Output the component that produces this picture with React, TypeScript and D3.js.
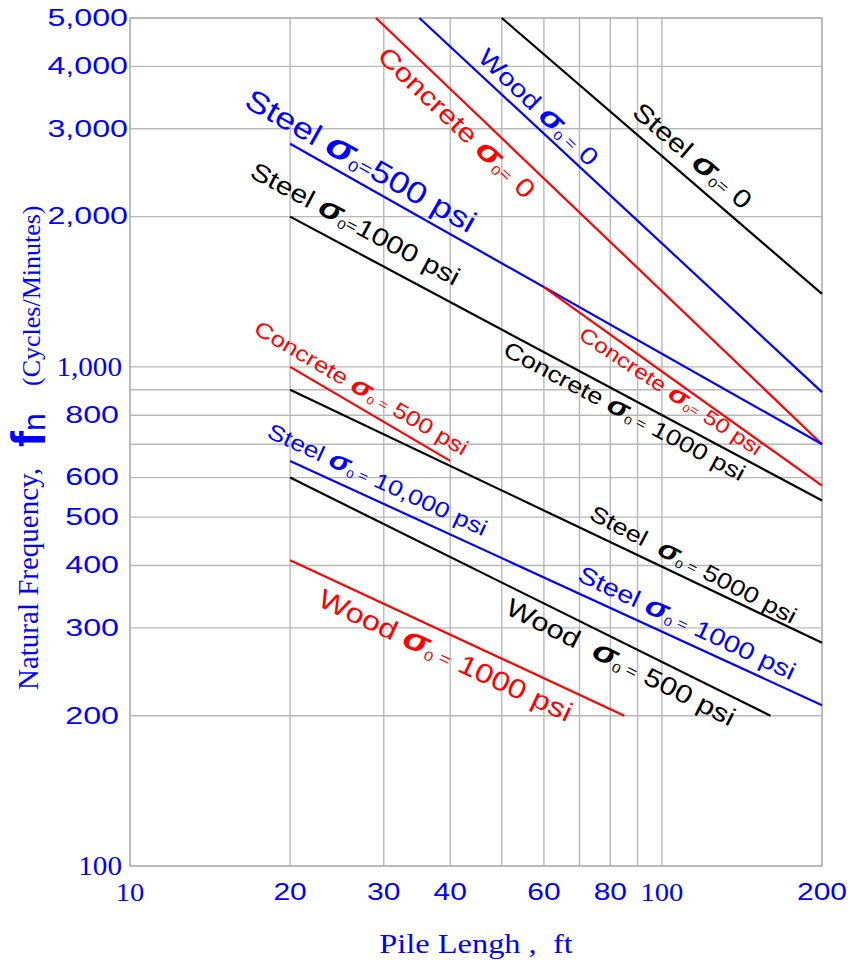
import React from 'react';
import * as d3 from 'd3';

const W = 851;
const H = 963;

// axis domain
const xDomain = [10, 200];
const yDomain = [100, 5000];

// grid lines
const xGridValues = [20, 30, 40, 50, 60, 70, 80, 90, 100];
const yGridValues = [200, 300, 400, 500, 600, 700, 800, 900, 1000, 2000, 3000, 4000];

// tick labels
const xTickValues = [10, 20, 30, 40, 60, 80, 100, 200];
const xTickText = ['10', '20', '30', '40', '60', '80', '100', '200'];
const yTickValues = [100, 200, 300, 400, 500, 600, 800, 1000, 2000, 3000, 4000, 5000];
const yTickText = ['100', '200', '300', '400', '500', '600', '800', '1,000', '2,000', '3,000', '4,000', '5,000'];
const serifTickValues = [10, 100, 1000];

// series: [pile length ft, natural frequency cpm]
const steel0 = [[50, 5000], [200, 1400]];
const wood0 = [[35, 5000], [200, 890]];
const concrete0 = [[29, 5000], [200, 700]];
const steel500 = [[20, 2800], [200, 700]];
const steel1000 = [[20, 2000], [200, 540]];
const concrete50 = [[60, 1445], [200, 578]];
const concrete500 = [[20, 1000], [40, 648]];
const steel5000 = [[20, 900], [200, 280]];
const steel10000 = [[20, 648], [200, 210]];
const wood500 = [[20, 600], [160, 200]];
const wood1000 = [[20, 410], [85, 200]];

const BLACK = '#000000';
const BLUE = '#0000ff';
const RED = '#ff0000';

const seriesList = [
  { d: steel0, c: BLACK },
  { d: wood0, c: BLUE },
  { d: concrete0, c: RED },
  { d: steel500, c: BLUE },
  { d: steel1000, c: BLACK },
  { d: concrete50, c: RED },
  { d: concrete500, c: RED },
  { d: steel5000, c: BLACK },
  { d: steel10000, c: BLUE },
  { d: wood500, c: BLACK },
  { d: wood1000, c: RED },
];

// labels: series, start length (ft), vertical offset px (+ above line), font size, angle override
const labels = [
  { s: steel0, c: BLACK, pre: 'Steel ', eq: '=', suf: ' 0', at: 87.4, dy: 15, fs: 25.5 },
  { s: wood0, c: BLUE, pre: 'Wood ', eq: ' =', suf: ' 0', at: 44.8, dy: 12, fs: 24.5, ang: 44 },
  { s: concrete0, c: RED, pre: 'Concrete ', eq: '=', suf: ' 0', at: 29.0, dy: -40, fs: 26 },
  { s: steel500, c: BLUE, pre: 'Steel ', eq: '=', suf: '500 psi', at: 16.3, dy: 11, fs: 30 },
  { s: steel1000, c: BLACK, pre: 'Steel ', eq: '=', suf: '1000 psi', at: 16.7, dy: 18, fs: 25 },
  { s: concrete500, c: RED, pre: 'Concrete ', eq: ' =', suf: ' 500 psi', at: 17.0, dy: 12, fs: 21.5 },
  { s: steel10000, c: BLUE, pre: 'Steel ', eq: ' =', suf: ' 10,000 psi', at: 18.0, dy: 13, fs: 22 },
  { s: wood1000, c: RED, pre: 'Wood ', eq: ' =', suf: ' 1000 psi', at: 22.4, dy: -33, fs: 27, ang: 25 },
  { s: steel1000, c: BLACK, pre: 'Concrete ', eq: ' =', suf: ' 1000 psi', at: 50.0, dy: -25, fs: 22.5 },
  { s: concrete50, c: RED, pre: 'Concrete ', eq: '=', suf: ' 50 psi', at: 69.4, dy: -27, fs: 20.5, ang: 33.5 },
  { s: steel5000, c: BLACK, pre: 'Steel  ', eq: ' =', suf: ' 5000 psi', at: 72.6, dy: 13, fs: 22.5, ang: 27.5 },
  { s: steel10000, c: BLUE, pre: 'Steel ', eq: ' =', suf: ' 1000 psi', at: 69.0, dy: 12, fs: 24, ang: 25 },
  { s: wood500, c: BLACK, pre: 'Wood  ', eq: ' =', suf: ' 500 psi', at: 50.5, dy: -29.5, fs: 25.5, ang: 26.7 },
];

const x = d3.scaleLog().domain(xDomain).range([130, 822]);
const y = d3.scaleLog().domain(yDomain).range([866, 18]);

function lineAt(s: number[][], L: number) {
  const [[x0, y0], [x1, y1]] = s;
  const t = Math.log(L / x0) / Math.log(x1 / x0);
  return Math.exp(Math.log(y0) + t * (Math.log(y1) - Math.log(y0)));
}

const SANS = '"Liberation Sans", Arial, Helvetica, sans-serif';
const SERIF = '"Liberation Serif", "Times New Roman", serif';
const GRID = '#b8b8b8';
const STRETCH = 1.2;

export default function App() {
  const lineGen = d3
    .line<number[]>()
    .x((d) => x(d[0]))
    .y((d) => y(d[1]));

  return (
    <svg
      width={W}
      height={H}
      viewBox={`0 0 ${W} ${H}`}
      style={{ position: 'absolute', left: 0, top: 0, background: '#fff' }}
    >
      <rect x={0} y={0} width={W} height={H} fill="#fff" />
      {/* grid */}
      {xGridValues.map((v) => (
        <line key={'gx' + v} x1={x(v)} x2={x(v)} y1={y(5000)} y2={y(100)} stroke={GRID} strokeWidth={1.4} />
      ))}
      {yGridValues.map((v) => (
        <line key={'gy' + v} x1={x(10)} x2={x(200)} y1={y(v)} y2={y(v)} stroke={GRID} strokeWidth={1.4} />
      ))}
      <rect
        x={x(10)}
        y={y(5000)}
        width={x(200) - x(10)}
        height={y(100) - y(5000)}
        fill="none"
        stroke="#aaaaaa"
        strokeWidth={1.6}
      />

      {/* series */}
      {seriesList.map((s, i) => (
        <path key={'s' + i} d={lineGen(s.d) || ''} fill="none" stroke={s.c} strokeWidth={2.2} />
      ))}

      {/* labels */}
      {labels.map((l, i) => {
        const [[a0, b0], [a1, b1]] = l.s;
        const slope = (y(b1) - y(b0)) / (x(a1) - x(a0));
        const ang = l.ang !== undefined ? l.ang : (Math.atan(slope) * 180) / Math.PI;
        const px = x(l.at);
        const py = y(lineAt(l.s, l.at)) - l.dy;
        const fs = l.fs;
        return (
          <text
            key={'l' + i}
            transform={`translate(${px},${py}) rotate(${ang}) scale(${STRETCH},1)`}
            fill={l.c}
            fontFamily={SANS}
            fontSize={fs}
            style={{ whiteSpace: 'pre' }}
          >
            <tspan>{l.pre}</tspan>
            <tspan fontWeight="bold" fontStyle="italic" fontSize={fs * 1.2}>σ</tspan>
            <tspan fontSize={fs * 0.5} dy={fs * 0.12}>0</tspan>
            <tspan fontSize={fs * 0.62} dy={-fs * 0.12}>{l.eq}</tspan>
            <tspan>{l.suf}</tspan>
          </text>
        );
      })}

      {/* y tick labels */}
      {yTickValues.map((v, i) => {
        const serif = serifTickValues.includes(v);
        const right = v >= 2000 ? 128 : v === 1000 ? 122 : serif ? 122 : 119;
        return (
          <text
            key={'yt' + v}
            transform={`translate(${right},${y(v)}) scale(${serif ? 1.08 : 1.4},1)`}
            textAnchor="end"
            dominantBaseline="central"
            fill={BLUE}
            fontFamily={serif ? SERIF : SANS}
            fontSize={serif ? 27 : 23}
          >
            {yTickText[i]}
          </text>
        );
      })}

      {/* x tick labels */}
      {xTickValues.map((v, i) => {
        const serif = serifTickValues.includes(v);
        return (
          <text
            key={'xt' + v}
            transform={`translate(${x(v)},${892}) scale(${serif ? 1.1 : 1.25},1)`}
            textAnchor="middle"
            dominantBaseline="central"
            fill={BLUE}
            fontFamily={serif ? SERIF : SANS}
            fontSize={serif ? 26 : 24}
          >
            {xTickText[i]}
          </text>
        );
      })}

      {/* x title */}
      <text
        transform={`translate(476,953) scale(1.2,1)`}
        textAnchor="middle"
        fill={BLUE}
        fontFamily={SERIF}
        fontSize={27}
        style={{ whiteSpace: 'pre' }}
      >
        {'Pile Lengh ,  ft'}
      </text>

      {/* y title */}
      <g transform="rotate(-90)" fill={BLUE}>
        <text x={-690} y={38} fontFamily={SERIF} fontSize={29}>
          Natural Frequency,
        </text>
        <text x={-447} y={45} fontFamily={SANS}>
          <tspan fontSize={48} fontWeight="bold">f</tspan>
          <tspan fontSize={32}>n</tspan>
        </text>
        <text x={-386} y={40} fontFamily={SERIF} fontSize={26}>
          (Cycles/Minutes)
        </text>
      </g>
    </svg>
  );
}
